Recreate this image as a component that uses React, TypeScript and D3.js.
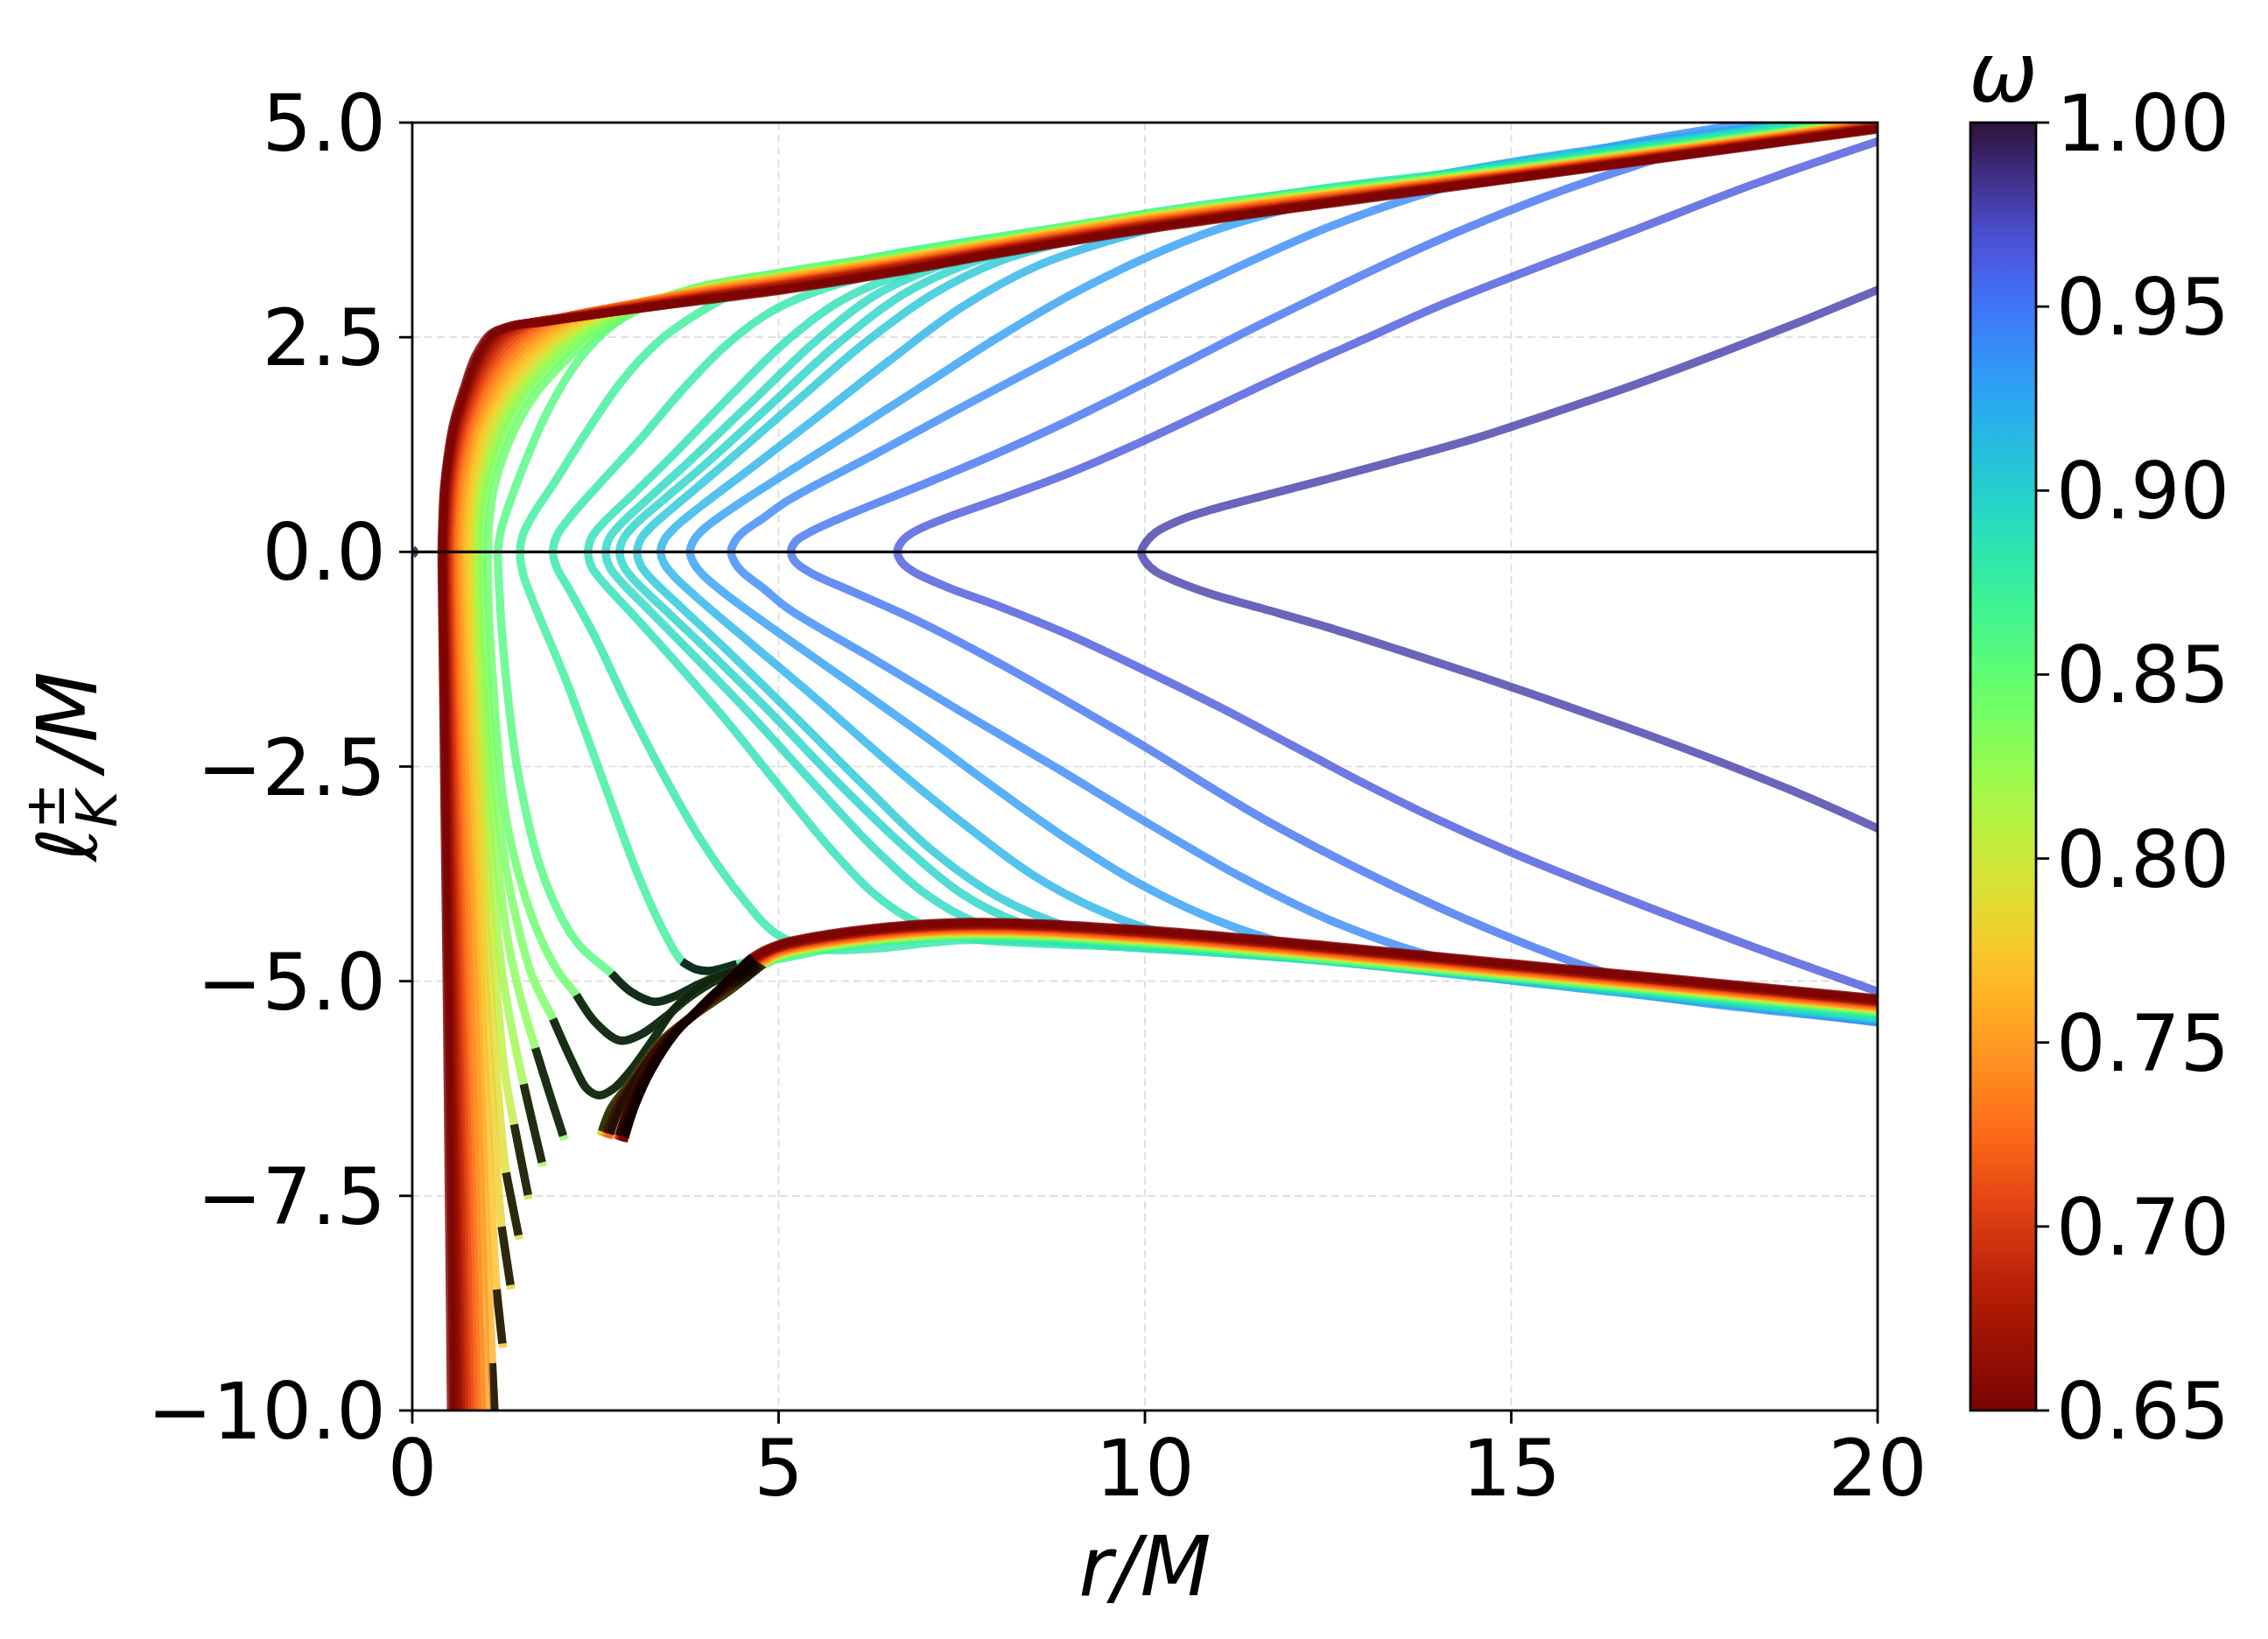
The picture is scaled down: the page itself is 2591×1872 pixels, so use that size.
import React from 'react';
import * as d3 from 'd3';

const WIDTH = 2591;
const HEIGHT = 1872;

const xDomain = [0, 20];
const yDomain = [-10, 5];
const xTicks = [0, 5, 10, 15, 20];
const yTicks = [-10, -7.5, -5, -2.5, 0, 2.5, 5];
const cbarTicks = [0.65, 0.7, 0.75, 0.8, 0.85, 0.9, 0.95, 1.0];
const omegaRange = [0.65, 1.0];

// frequency of each curve (drawn in this order: high omega first, red on top)
const omegas = [0.978, 0.965, 0.952, 0.94, 0.93, 0.918, 0.906, 0.898, 0.893, 0.888, 0.882, 0.873, 0.858, 0.845, 0.838, 0.83, 0.82, 0.805, 0.79, 0.78, 0.77, 0.76, 0.75, 0.74, 0.73, 0.72, 0.71, 0.7, 0.69, 0.68, 0.67, 0.66, 0.655, 0.65];

// l_K^+ : from the turning point (l = 0) outward
const upperBranches: number[][][] = [
  [[9.95,0],[10.02,0.12],[10.15,0.23],[10.45,0.36],[10.9,0.49],[11.6,0.65],[12.5,0.85],[13.5,1.08],[14.5,1.32],[15.5,1.6],[16.6,1.92],[17.8,2.3],[19,2.7],[20,3.05]],
  [[6.62,0],[6.68,0.12],[6.84,0.23],[7.3,0.4],[8.0,0.61],[9.0,0.93],[10,1.3],[11,1.7],[12,2.1],[13,2.48],[14,2.86],[15,3.2],[16.6,3.72],[18.3,4.28],[20,4.78]],
  [[5.17,0],[5.23,0.12],[5.45,0.24],[6.0,0.45],[6.84,0.74],[7.8,1.08],[8.79,1.46],[9.96,1.95],[11.7,2.7],[13.66,3.5],[14.64,3.86],[15.6,4.18],[16.6,4.47],[17.6,4.74],[18.8,4.98],[20,5.18]],
  [[4.35,0],[4.4,0.12],[4.5,0.22],[4.8,0.4],[5.13,0.6],[6.32,1.14],[7.51,1.69],[8.8,2.27],[10,2.8],[11.3,3.33],[12.5,3.78],[13.7,4.14],[15,4.46],[16.5,4.74],[18,4.96],[20,5.16]],
  [[3.79,0],[3.84,0.13],[3.97,0.26],[4.35,0.5],[5.0,0.86],[6,1.4],[7,1.95],[8,2.5],[9,3.0],[10,3.42],[11,3.76],[12.2,4.05],[13.5,4.3],[15,4.54],[17.5,4.85],[20,5.14]],
  [[3.39,0],[3.44,0.14],[3.58,0.28],[3.95,0.54],[4.6,0.96],[5.5,1.55],[6.5,2.22],[7.5,2.85],[8.5,3.32],[9.5,3.62],[10.5,3.85],[12,4.1],[13.5,4.32],[15,4.53],[17.5,4.83],[20,5.12]],
  [[3.07,0],[3.12,0.15],[3.27,0.3],[3.65,0.58],[4.3,1.05],[5.2,1.72],[6.2,2.45],[7.1,3.0],[8,3.38],[9,3.63],[10.3,3.88],[12,4.12],[13.5,4.32],[15,4.52],[17.5,4.82],[20,5.11]],
  [[2.83,0],[2.88,0.15],[3.03,0.31],[3.42,0.6],[4.0,1.02],[4.9,1.72],[5.8,2.42],[6.7,3.0],[7.6,3.36],[8.6,3.6],[10,3.86],[12,4.12],[13.5,4.31],[15,4.51],[17.5,4.81],[20,5.1]],
  [[2.64,0],[2.69,0.16],[2.84,0.32],[3.22,0.62],[3.8,1.07],[4.6,1.72],[5.5,2.45],[6.3,2.98],[7.1,3.3],[8.1,3.55],[9.5,3.8],[11.5,4.07],[13.5,4.3],[15,4.5],[17.5,4.8],[20,5.09]],
  [[2.4,0],[2.45,0.17],[2.61,0.34],[3.0,0.66],[3.55,1.12],[4.3,1.78],[5.1,2.45],[5.8,2.9],[6.5,3.18],[7.5,3.42],[9,3.7],[10.5,3.96],[12.5,4.24],[15,4.49],[17.5,4.79],[20,5.08]],
  [[1.92,0],[1.97,0.18],[2.13,0.38],[2.52,0.76],[3.1,1.3],[3.7,1.9],[4.3,2.42],[4.9,2.8],[5.6,3.06],[6.5,3.27],[8,3.6],[10,3.94],[12.5,4.23],[15,4.48],[17.5,4.78],[20,5.07]],
  [[1.47,0],[1.51,0.2],[1.64,0.42],[1.95,0.82],[2.35,1.36],[2.85,1.98],[3.36,2.45],[3.9,2.78],[4.5,3.05],[5.2,3.22],[6.5,3.46],[8,3.67],[10,3.93],[12.5,4.22],[15,4.47],[17.5,4.76],[20,5.05]],
  [[1.17,0],[1.21,0.25],[1.32,0.55],[1.52,1.0],[1.78,1.52],[2.05,1.95],[2.35,2.32],[2.75,2.65],[3.2,2.88],[3.8,3.06],[5,3.25],[6.5,3.45],[8,3.66],[10,3.93],[12.5,4.21],[15,4.46],[17.5,4.75],[20,5.04]],
  [[1.03,0],[1.05,0.35],[1.11,0.72],[1.24,1.1],[1.44,1.5],[1.72,1.88],[2.06,2.2],[2.44,2.49],[2.86,2.72],[3.3,2.9],[4,3.1],[5,3.24],[6.5,3.44],[8,3.65],[10,3.93],[12.5,4.2],[15,4.46],[17.5,4.75],[20,5.04]],
  [[0.95,0],[0.96,0.35],[1.02,0.72],[1.14,1.1],[1.33,1.5],[1.6,1.87],[1.93,2.19],[2.3,2.47],[2.72,2.7],[3.2,2.88],[4,3.09],[5,3.22],[6.5,3.42],[8,3.63],[10,3.91],[12.5,4.19],[15,4.45],[17.5,4.74],[20,5.03]],
  [[0.9,0],[0.91,0.35],[0.965,0.72],[1.08,1.1],[1.26,1.5],[1.52,1.86],[1.84,2.18],[2.2,2.46],[2.6,2.69],[3.1,2.86],[4,3.08],[5,3.21],[6.5,3.41],[8,3.62],[10,3.9],[12.5,4.18],[15,4.44],[17.5,4.73],[20,5.02]],
  [[0.86,0],[0.87,0.35],[0.92,0.72],[1.03,1.1],[1.2,1.5],[1.45,1.85],[1.76,2.17],[2.11,2.45],[2.5,2.68],[3.0,2.84],[4,3.07],[5,3.2],[6.5,3.4],[8,3.62],[10,3.9],[12.5,4.18],[15,4.44],[17.5,4.73],[20,5.02]],
  [[0.82,0],[0.83,0.35],[0.88,0.72],[0.98,1.1],[1.14,1.5],[1.38,1.85],[1.68,2.17],[2.02,2.45],[2.4,2.67],[2.9,2.83],[4,3.07],[5,3.2],[6.5,3.4],[8,3.61],[10,3.89],[12.5,4.17],[15,4.43],[17.5,4.72],[20,5.01]],
  [[0.78,0],[0.79,0.35],[0.835,0.72],[0.93,1.1],[1.08,1.5],[1.31,1.85],[1.6,2.17],[1.94,2.45],[2.3,2.66],[2.8,2.82],[4,3.06],[5,3.19],[6.5,3.39],[8,3.61],[10,3.89],[12.5,4.17],[15,4.43],[17.5,4.72],[20,5.01]],
  [[0.74,0],[0.75,0.35],[0.79,0.72],[0.88,1.1],[1.02,1.5],[1.24,1.85],[1.52,2.17],[1.86,2.45],[2.22,2.66],[2.7,2.81],[4,3.06],[5,3.19],[6.5,3.39],[8,3.6],[10,3.88],[12.5,4.16],[15,4.43],[17.5,4.72],[20,5.01]],
  [[0.7,0],[0.71,0.35],[0.75,0.72],[0.83,1.1],[0.97,1.5],[1.18,1.85],[1.46,2.18],[1.79,2.45],[2.14,2.66],[2.6,2.8],[4,3.05],[5,3.18],[6.5,3.38],[8,3.6],[10,3.88],[12.5,4.16],[15,4.42],[17.5,4.71],[20,5.0]],
  [[0.66,0],[0.67,0.35],[0.71,0.72],[0.79,1.1],[0.92,1.5],[1.13,1.85],[1.4,2.19],[1.72,2.45],[2.06,2.66],[2.5,2.79],[4,3.05],[5,3.18],[6.5,3.38],[8,3.59],[10,3.87],[12.5,4.15],[15,4.42],[17.5,4.71],[20,5.0]],
  [[0.63,0],[0.64,0.35],[0.675,0.72],[0.75,1.1],[0.88,1.5],[1.08,1.86],[1.34,2.2],[1.65,2.46],[1.98,2.66],[2.4,2.78],[4,3.04],[5,3.16],[6.5,3.36],[8,3.58],[10,3.86],[12.5,4.15],[15,4.41],[17.5,4.7],[20,4.99]],
  [[0.59,0],[0.6,0.35],[0.635,0.72],[0.71,1.1],[0.83,1.5],[1.03,1.87],[1.28,2.21],[1.58,2.47],[1.91,2.67],[2.3,2.77],[4,3.03],[5,3.15],[6.5,3.35],[8,3.57],[10,3.85],[12.5,4.14],[15,4.41],[17.5,4.7],[20,4.99]],
  [[0.56,0],[0.57,0.35],[0.6,0.72],[0.67,1.1],[0.79,1.5],[0.98,1.88],[1.22,2.22],[1.51,2.48],[1.84,2.67],[2.2,2.76],[4,3.02],[5,3.14],[6.5,3.34],[8,3.56],[10,3.84],[12.5,4.13],[15,4.4],[17.5,4.69],[20,4.98]],
  [[0.53,0],[0.54,0.35],[0.57,0.72],[0.64,1.1],[0.755,1.5],[0.94,1.9],[1.17,2.23],[1.45,2.49],[1.77,2.67],[2.15,2.75],[4,3.01],[5,3.13],[6.5,3.33],[8,3.55],[10,3.83],[12.5,4.12],[15,4.39],[17.5,4.68],[20,4.97]],
  [[0.51,0],[0.52,0.35],[0.55,0.72],[0.61,1.1],[0.72,1.5],[0.9,1.9],[1.12,2.24],[1.39,2.5],[1.7,2.67],[2.1,2.74],[4,3.0],[5,3.12],[6.5,3.32],[8,3.54],[10,3.82],[12.5,4.11],[15,4.39],[17.5,4.68],[20,4.97]],
  [[0.49,0],[0.5,0.35],[0.525,0.72],[0.585,1.1],[0.69,1.5],[0.86,1.9],[1.07,2.25],[1.33,2.51],[1.64,2.665],[2.05,2.73],[4,2.99],[5,3.11],[6.5,3.31],[8,3.53],[10,3.81],[12.5,4.1],[15,4.38],[17.5,4.67],[20,4.96]],
  [[0.47,0],[0.48,0.35],[0.505,0.72],[0.56,1.1],[0.66,1.5],[0.82,1.9],[1.03,2.26],[1.28,2.52],[1.58,2.66],[2.0,2.72],[4,2.98],[5,3.1],[6.5,3.3],[8,3.52],[10,3.8],[12.5,4.09],[15,4.37],[17.5,4.66],[20,4.95]],
  [[0.45,0],[0.46,0.35],[0.485,0.72],[0.54,1.1],[0.635,1.5],[0.79,1.9],[0.99,2.27],[1.23,2.53],[1.52,2.655],[1.95,2.71],[4,2.97],[5,3.09],[6.5,3.29],[8,3.51],[10,3.79],[12.5,4.08],[15,4.37],[17.5,4.66],[20,4.95]],
  [[0.435,0],[0.445,0.35],[0.47,0.72],[0.52,1.1],[0.61,1.5],[0.765,1.9],[0.95,2.28],[1.18,2.54],[1.47,2.65],[1.9,2.7],[4,2.96],[5,3.07],[6.5,3.27],[8,3.5],[10,3.78],[12.5,4.08],[15,4.36],[17.5,4.65],[20,4.94]],
  [[0.42,0],[0.43,0.35],[0.45,0.72],[0.5,1.1],[0.59,1.5],[0.74,1.9],[0.92,2.28],[1.14,2.54],[1.42,2.645],[1.85,2.69],[4,2.95],[5,3.06],[6.5,3.26],[8,3.49],[10,3.77],[12.5,4.07],[15,4.35],[17.5,4.64],[20,4.93]],
  [[0.41,0],[0.42,0.35],[0.44,0.72],[0.49,1.1],[0.575,1.5],[0.72,1.9],[0.89,2.28],[1.1,2.54],[1.38,2.64],[1.8,2.68],[4,2.94],[5,3.05],[6.5,3.25],[8,3.48],[10,3.76],[12.5,4.06],[15,4.35],[17.5,4.64],[20,4.93]],
  [[0.4,0],[0.41,0.35],[0.43,0.72],[0.48,1.1],[0.56,1.5],[0.7,1.9],[0.86,2.28],[1.07,2.54],[1.34,2.63],[1.76,2.67],[2.8,2.8],[4,2.93],[5,3.04],[6.5,3.24],[8,3.47],[10,3.75],[12.5,4.05],[15,4.34],[17.5,4.63],[20,4.92]],
];

// l_K^- : from the turning point (l = 0) downward (inner branch)
const lowerBranches: number[][][] = [
  [[9.95,0],[10.01,-0.12],[10.15,-0.23],[10.45,-0.35],[10.9,-0.49],[11.6,-0.66],[12.5,-0.88],[13.5,-1.15],[14.5,-1.43],[15.5,-1.72],[16.6,-2.05],[17.8,-2.43],[19,-2.84],[20,-3.22]],
  [[6.62,0],[6.68,-0.12],[6.84,-0.23],[7.3,-0.41],[8.0,-0.63],[9.0,-0.98],[10,-1.38],[11,-1.8],[12,-2.25],[13,-2.7],[14,-3.12],[15,-3.5],[16.6,-4.05],[18.3,-4.6],[20,-5.12]],
  [[5.17,0],[5.23,-0.12],[5.45,-0.25],[6.0,-0.46],[6.84,-0.78],[7.8,-1.2],[8.79,-1.67],[9.96,-2.25],[11.7,-3.15],[13.66,-4.0],[15,-4.5],[16.1,-4.85],[17,-5.06],[18.5,-5.3],[20,-5.48]],
  [[4.35,0],[4.4,-0.12],[4.5,-0.23],[4.8,-0.43],[5.13,-0.66],[6.32,-1.26],[7.51,-1.87],[8.8,-2.52],[10,-3.14],[11.3,-3.78],[12.5,-4.28],[13.5,-4.6],[14.5,-4.83],[15.5,-4.99],[17.5,-5.24],[20,-5.47]],
  [[3.79,0],[3.84,-0.13],[3.97,-0.27],[4.35,-0.54],[5.0,-0.94],[6,-1.54],[7,-2.15],[8,-2.78],[9,-3.38],[10,-3.9],[11,-4.3],[12,-4.58],[13,-4.76],[15,-4.99],[17.5,-5.23],[20,-5.46]],
  [[3.39,0],[3.44,-0.14],[3.58,-0.29],[3.95,-0.58],[4.6,-1.05],[5.5,-1.7],[6.5,-2.45],[7.5,-3.15],[8.5,-3.78],[9.5,-4.22],[10.5,-4.5],[11.5,-4.65],[13,-4.81],[15,-4.99],[17.5,-5.22],[20,-5.45]],
  [[3.07,0],[3.12,-0.16],[3.27,-0.32],[3.65,-0.63],[4.3,-1.15],[5.2,-1.9],[6.2,-2.75],[7.1,-3.48],[8,-4.02],[9,-4.38],[10,-4.56],[11.5,-4.68],[13,-4.8],[15,-4.98],[17.5,-5.21],[20,-5.44]],
  [[2.83,0],[2.88,-0.16],[3.03,-0.33],[3.42,-0.65],[4.0,-1.12],[4.9,-1.88],[5.8,-2.68],[6.7,-3.42],[7.5,-3.98],[8.3,-4.32],[9.3,-4.52],[10.5,-4.63],[12.5,-4.77],[15,-4.97],[17.5,-5.2],[20,-5.43]],
  [[2.64,0],[2.69,-0.17],[2.84,-0.34],[3.22,-0.67],[3.8,-1.17],[4.6,-1.88],[5.5,-2.72],[6.3,-3.45],[7.0,-3.98],[7.7,-4.32],[8.5,-4.5],[9.5,-4.59],[11,-4.67],[12.5,-4.76],[15,-4.96],[17.5,-5.19],[20,-5.42]],
  [[2.4,0],[2.45,-0.18],[2.61,-0.36],[3.0,-0.72],[3.55,-1.24],[4.3,-1.98],[5.0,-2.72],[5.7,-3.45],[6.3,-3.98],[6.9,-4.32],[7.6,-4.5],[8.5,-4.56],[10,-4.61],[12.5,-4.75],[15,-4.95],[17.5,-5.18],[20,-5.41]],
  [[1.92,0],[1.97,-0.18],[2.13,-0.42],[2.5,-1.0],[2.9,-1.72],[3.4,-2.55],[3.9,-3.3],[4.43,-3.95],[4.97,-4.45],[5.5,-4.62],[6.3,-4.62],[7.6,-4.52],[10,-4.6],[12.5,-4.74],[15,-4.94],[17.5,-5.17],[20,-5.4]],
  [[1.47,0],[1.51,-0.25],[1.66,-0.6],[2.1,-1.5],[2.62,-2.7],[3.1,-3.8],[3.45,-4.45],[3.68,-4.77],[3.87,-4.86],[4.06,-4.88],[4.43,-4.8],[5.0,-4.74],[6.0,-4.58],[7.6,-4.48],[10,-4.57],[15,-4.96],[20,-5.37]],
  [[1.17,0],[1.185,-0.4],[1.26,-1.3],[1.45,-2.6],[1.8,-3.8],[2.25,-4.55],[2.72,-4.91],[2.98,-5.12],[3.31,-5.24],[3.6,-5.17],[3.9,-5.04],[4.3,-4.9],[4.82,-4.8],[5.0,-4.73],[6.0,-4.57],[7.6,-4.47],[10,-4.56],[15,-4.95],[20,-5.36]],
  [[1.03,0],[1.035,-0.5],[1.1,-1.5],[1.26,-3],[1.5,-3.9],[1.75,-4.5],[2.0,-4.9],[2.24,-5.16],[2.5,-5.48],[2.83,-5.69],[3.1,-5.63],[3.45,-5.42],[3.79,-5.18],[4.2,-4.97],[4.81,-4.8],[5.0,-4.72],[6.0,-4.56],[7.6,-4.46],[10,-4.55],[15,-4.94],[20,-5.35]],
  [[0.95,0],[0.955,-0.5],[1.02,-1.5],[1.16,-3],[1.4,-4.2],[1.64,-4.95],[1.92,-5.44],[2.19,-5.95],[2.38,-6.25],[2.55,-6.33],[2.75,-6.25],[3.0,-6.02],[3.3,-5.66],[3.58,-5.32],[4.0,-5.02],[4.4,-4.88],[4.8,-4.8],[5.0,-4.71],[6.0,-4.55],[7.6,-4.45],[10,-4.54],[15,-4.93],[20,-5.34]],
  [[0.9,0],[0.905,-0.5],[0.965,-1.5],[1.09,-3],[1.3,-4.5],[1.48,-5.2],[1.68,-5.78],[1.87,-6.3],[2.06,-6.8]],
  [[0.86,0],[0.865,-0.5],[0.92,-1.5],[1.03,-3],[1.21,-4.8],[1.37,-5.6],[1.52,-6.2],[1.65,-6.68],[1.77,-7.11]],
  [[0.82,0],[0.825,-0.5],[0.875,-1.5],[0.975,-3],[1.13,-4.9],[1.27,-6.1],[1.39,-6.67],[1.58,-7.49]],
  [[0.78,0],[0.785,-0.5],[0.835,-1.5],[0.925,-3],[1.06,-5],[1.19,-6.5],[1.28,-7.23],[1.45,-7.96]],
  [[0.74,0],[0.745,-0.5],[0.79,-1.5],[0.875,-3],[0.995,-5],[1.13,-6.9],[1.22,-7.86],[1.34,-8.54]],
  [[0.7,0],[0.705,-0.5],[0.745,-1.5],[0.825,-3],[0.935,-5],[1.06,-7.2],[1.15,-8.59],[1.23,-9.22]],
  [[0.66,0],[0.665,-0.5],[0.705,-1.5],[0.78,-3],[0.88,-5],[0.99,-7.5],[1.09,-9.45],[1.15,-10.5]],
  [[0.63,0],[0.635,-0.5],[0.67,-1.5],[0.74,-3],[0.84,-5],[0.94,-7.5],[1.03,-10.5]],
  [[0.59,0],[0.595,-0.5],[0.63,-1.5],[0.69,-3],[0.78,-5],[0.87,-7.5],[0.96,-10.5]],
  [[0.56,0],[0.565,-0.5],[0.595,-1.5],[0.655,-3],[0.73,-5],[0.82,-7.5],[0.9,-10.5]],
  [[0.53,0],[0.535,-0.5],[0.565,-1.5],[0.62,-3],[0.69,-5],[0.77,-7.5],[0.85,-10.5]],
  [[0.51,0],[0.515,-0.5],[0.54,-1.5],[0.59,-3],[0.655,-5],[0.73,-7.5],[0.8,-10.5]],
  [[0.49,0],[0.495,-0.5],[0.52,-1.5],[0.56,-3],[0.62,-5],[0.69,-7.5],[0.755,-10.5]],
  [[0.47,0],[0.475,-0.5],[0.495,-1.5],[0.535,-3],[0.59,-5],[0.655,-7.5],[0.715,-10.5]],
  [[0.45,0],[0.455,-0.5],[0.475,-1.5],[0.51,-3],[0.56,-5],[0.62,-7.5],[0.675,-10.5]],
  [[0.435,0],[0.44,-0.5],[0.46,-1.5],[0.49,-3],[0.535,-5],[0.59,-7.5],[0.64,-10.5]],
  [[0.42,0],[0.425,-0.5],[0.445,-1.5],[0.47,-3],[0.51,-5],[0.56,-7.5],[0.605,-10.5]],
  [[0.41,0],[0.415,-0.5],[0.43,-1.5],[0.455,-3],[0.49,-5],[0.53,-7.5],[0.57,-10.5]],
  [[0.4,0],[0.405,-0.5],[0.42,-1.5],[0.44,-3],[0.47,-5],[0.5,-7.5],[0.535,-10.5]],
];

// unstable (dark) stretch of the inner l_K^- branch: [first, last] point index
const lowerDark: (number[] | null)[] = [
  null, null, null, null, null, null, null, null, null, null, null,
  [7, 10], [6, 12], [7, 14], [6, 16],
  [6, 8], [6, 8], [6, 7], [6, 7], [6, 7], [6, 7], [6, 7],
  null, null, null, null, null, null, null, null, null, null, null, null,
];

// outer l_K^- branch of the low-frequency stars (starts dark, then joins the envelope)
const outerBranches: (number[][] | null)[] = [
  null, null, null, null, null, null, null, null, null, null, null, null, null, null, null,
  [[2.59,-6.75],[2.72,-6.47],[3.04,-6.12],[3.36,-5.77],[3.84,-5.4],[4.33,-5.11],[4.79,-4.8],[5.0,-4.7],[6.0,-4.54],[7.6,-4.44],[10,-4.53],[15,-4.92],[20,-5.33]],
  [[2.59,-6.75],[2.73,-6.47],[3.04,-6.12],[3.37,-5.72],[3.84,-5.4],[4.33,-5.11],[4.79,-4.8],[5.0,-4.7],[6.0,-4.54],[7.6,-4.44],[10,-4.53],[15,-4.92],[20,-5.33]],
  [[2.6,-6.75],[2.74,-6.47],[3.04,-6.12],[3.38,-5.72],[3.84,-5.39],[4.32,-5.1],[4.79,-4.8],[5.0,-4.69],[6.0,-4.53],[7.6,-4.43],[10,-4.52],[15,-4.91],[20,-5.32]],
  [[2.61,-6.76],[2.75,-6.47],[3.04,-6.11],[3.39,-5.71],[3.85,-5.39],[4.32,-5.1],[4.78,-4.79],[5.0,-4.69],[6.0,-4.53],[7.6,-4.43],[10,-4.52],[15,-4.91],[20,-5.32]],
  [[2.62,-6.76],[2.76,-6.47],[3.05,-6.11],[3.4,-5.71],[3.85,-5.39],[4.31,-5.1],[4.78,-4.79],[5.0,-4.68],[6.0,-4.52],[7.6,-4.42],[10,-4.51],[15,-4.9],[20,-5.31]],
  [[2.63,-6.76],[2.77,-6.47],[3.05,-6.1],[3.41,-5.7],[3.86,-5.38],[4.31,-5.09],[4.77,-4.79],[5.0,-4.68],[6.0,-4.52],[7.6,-4.42],[10,-4.51],[15,-4.9],[20,-5.31]],
  [[2.64,-6.76],[2.78,-6.47],[3.06,-6.1],[3.42,-5.7],[3.86,-5.38],[4.3,-5.09],[4.76,-4.78],[5.0,-4.67],[6.0,-4.51],[7.6,-4.41],[10,-4.5],[15,-4.89],[20,-5.3]],
  [[2.65,-6.77],[2.79,-6.47],[3.07,-6.09],[3.43,-5.69],[3.87,-5.38],[4.3,-5.09],[4.75,-4.78],[5.0,-4.67],[6.0,-4.51],[7.6,-4.41],[10,-4.5],[15,-4.89],[20,-5.3]],
  [[2.66,-6.77],[2.8,-6.47],[3.08,-6.09],[3.44,-5.69],[3.87,-5.37],[4.29,-5.08],[4.74,-4.77],[5.0,-4.66],[6.0,-4.5],[7.6,-4.4],[10,-4.49],[15,-4.88],[20,-5.29]],
  [[2.68,-6.78],[2.82,-6.46],[3.09,-6.08],[3.45,-5.68],[3.88,-5.37],[4.29,-5.08],[4.73,-4.77],[5.0,-4.65],[6.0,-4.49],[7.6,-4.39],[10,-4.48],[15,-4.87],[20,-5.28]],
  [[2.7,-6.78],[2.84,-6.46],[3.1,-6.08],[3.46,-5.68],[3.88,-5.37],[4.28,-5.08],[4.72,-4.76],[5.0,-4.64],[6.0,-4.48],[7.6,-4.38],[10,-4.47],[15,-4.86],[20,-5.27]],
  [[2.82,-6.8],[2.96,-6.45],[3.18,-6.05],[3.51,-5.65],[3.9,-5.35],[4.28,-5.07],[4.71,-4.76],[5.0,-4.63],[6.0,-4.47],[7.6,-4.37],[10,-4.46],[15,-4.85],[20,-5.26]],
  [[2.83,-6.8],[2.97,-6.45],[3.19,-6.05],[3.52,-5.64],[3.9,-5.35],[4.27,-5.06],[4.7,-4.75],[5.0,-4.62],[6.0,-4.46],[7.6,-4.36],[10,-4.45],[15,-4.84],[20,-5.25]],
  [[2.85,-6.81],[2.99,-6.45],[3.21,-6.05],[3.53,-5.64],[3.9,-5.35],[4.27,-5.06],[4.69,-4.75],[5.0,-4.61],[6.0,-4.45],[7.6,-4.35],[10,-4.44],[15,-4.83],[20,-5.24]],
  [[2.86,-6.81],[3.0,-6.45],[3.22,-6.04],[3.54,-5.63],[3.9,-5.34],[4.26,-5.05],[4.68,-4.74],[5.0,-4.61],[6.0,-4.45],[7.6,-4.35],[10,-4.44],[15,-4.83],[20,-5.24]],
  [[2.87,-6.81],[3.01,-6.45],[3.23,-6.04],[3.55,-5.63],[3.9,-5.34],[4.26,-5.05],[4.67,-4.74],[5.0,-4.6],[6.0,-4.44],[7.6,-4.34],[10,-4.43],[15,-4.82],[20,-5.23]],
  [[2.88,-6.81],[3.02,-6.45],[3.24,-6.04],[3.56,-5.63],[3.9,-5.34],[4.25,-5.05],[4.66,-4.73],[5.0,-4.59],[6.0,-4.43],[7.6,-4.33],[10,-4.42],[15,-4.81],[20,-5.22]],
  [[2.89,-6.82],[3.03,-6.45],[3.25,-6.04],[3.57,-5.62],[3.9,-5.34],[4.25,-5.05],[4.65,-4.73],[5.0,-4.58],[6.0,-4.42],[7.6,-4.32],[10,-4.41],[15,-4.8],[20,-5.21]],
  [[2.9,-6.82],[3.04,-6.45],[3.26,-6.04],[3.58,-5.62],[3.9,-5.33],[4.25,-5.04],[4.64,-4.72],[5.0,-4.57],[6.0,-4.41],[7.6,-4.31],[10,-4.4],[15,-4.79],[20,-5.2]],
];
// last dark point index on every outer branch
const outerDarkEnd = 6;

// tiny mark of the omega -> 1 limit at the origin
const limitMark = [[0, 0.035], [0.03, 0], [0, -0.035]];

const MPL_TURBO_START = '#30123b';
const MPL_TURBO_END = '#7a0403';

function turbo(t: number): string {
  const tt = Math.max(0, Math.min(1, t));
  if (tt < 0.08) return d3.interpolateRgb(MPL_TURBO_START, d3.interpolateTurbo(0.08))(tt / 0.08);
  if (tt > 0.92) return d3.interpolateRgb(d3.interpolateTurbo(0.92), MPL_TURBO_END)((tt - 0.92) / 0.08);
  return d3.interpolateTurbo(tt);
}

export default function App() {
  const left = 471, right = 2145, top = 140, bottom = 1611;
  const x = d3.scaleLinear().domain(xDomain).range([left, right]);
  const y = d3.scaleLinear().domain(yDomain).range([bottom, top]);
  const cb = d3.scaleLinear().domain(omegaRange).range([bottom, top]);
  const tOf = d3.scaleLinear().domain(omegaRange).range([1, 0]);
  const color = (w: number) => turbo(tOf(w));
  const line = d3.line<number[]>().x(d => x(d[0])).y(d => y(d[1])).curve(d3.curveCatmullRom.alpha(0.5));
  const fmtY = d3.format('.1f');
  const fmtC = d3.format('.2f');

  const LW = 9.5;
  const ALPHA = 0.8;
  const FS = 89;
  const LFS = 94;
  const cbX0 = 2251, cbX1 = 2326;

  const stops = d3.range(0, 65).map(i => {
    const o = i / 64;
    return <stop key={i} offset={o} stopColor={turbo(1 - o)} />;
  });

  const curves = omegas.map((w, i) => {
    const col = color(w);
    const up = upperBranches[i];
    const lo = lowerBranches[i];
    const main = [...up.slice().reverse(), ...lo.slice(1)];
    const els: React.ReactNode[] = [];
    els.push(<path key="m" d={line(main) || ''} fill="none" stroke={col} strokeOpacity={ALPHA} strokeWidth={LW} strokeLinecap="square" strokeLinejoin="round" />);
    const ob = outerBranches[i];
    if (ob) {
      els.push(<path key="o" d={line(ob) || ''} fill="none" stroke={col} strokeOpacity={ALPHA} strokeWidth={LW} strokeLinecap="square" strokeLinejoin="round" />);
    }
    const ld = lowerDark[i];
    if (ld) {
      els.push(<path key="ld" d={line(lo.slice(ld[0], ld[1] + 1)) || ''} fill="none" stroke="#000" strokeOpacity={0.82} strokeWidth={LW} strokeLinecap="butt" strokeLinejoin="round" />);
    }
    if (ob) {
      els.push(<path key="od" d={line(ob.slice(0, outerDarkEnd + 1)) || ''} fill="none" stroke="#000" strokeOpacity={0.82} strokeWidth={LW} strokeLinecap="butt" strokeLinejoin="round" />);
    }
    return <g key={i}>{els}</g>;
  });

  return (
    <svg width={WIDTH} height={HEIGHT} style={{ position: 'absolute', left: 0, top: 0, background: '#ffffff' }} fontFamily="DejaVu Sans">
      <defs>
        <clipPath id="plotClip">
          <rect x={left} y={top} width={right - left} height={bottom - top} />
        </clipPath>
        <linearGradient id="cbarGrad" x1="0" y1="1" x2="0" y2="0">
          {stops}
        </linearGradient>
      </defs>
      <rect x={0} y={0} width={WIDTH} height={HEIGHT} fill="#ffffff" />

      <g stroke="#dcdcdc" strokeWidth={1.7} strokeDasharray="9,5">
        {xTicks.map(v => <line key={'gx' + v} x1={x(v)} x2={x(v)} y1={top} y2={bottom} />)}
        {yTicks.map(v => <line key={'gy' + v} x1={left} x2={right} y1={y(v)} y2={y(v)} />)}
      </g>

      <g clipPath="url(#plotClip)">
        {curves}
        <path d={line(limitMark) || ''} fill="none" stroke={turbo(0.005)} strokeWidth={LW} strokeOpacity={ALPHA} />
      </g>

      <line x1={left} x2={right} y1={y(0)} y2={y(0)} stroke="#000" strokeWidth={3.4} />

      <rect x={left} y={top} width={right - left} height={bottom - top} fill="none" stroke="#000" strokeWidth={2.8} />

      <g stroke="#000" strokeWidth={2.8}>
        {xTicks.map(v => <line key={'tx' + v} x1={x(v)} x2={x(v)} y1={bottom} y2={bottom + 15} />)}
        {yTicks.map(v => <line key={'ty' + v} x1={left - 15} x2={left} y1={y(v)} y2={y(v)} />)}
      </g>
      <g fontSize={FS} fill="#000">
        {xTicks.map(v => <text key={'lx' + v} x={x(v)} y={1708} textAnchor="middle">{String(v)}</text>)}
        {yTicks.map(v => <text key={'ly' + v} x={441} y={y(v) + 32} textAnchor="end">{fmtY(v)}</text>)}
      </g>

      <text x={(left + right) / 2} y={1822} fontSize={LFS} textAnchor="middle" fontStyle="italic">r/M</text>
      <text transform={`translate(110,${(top + bottom) / 2}) rotate(-90)`} fontSize={LFS} textAnchor="middle">
        <tspan fontStyle="italic">ℓ</tspan>
        <tspan fontStyle="italic" fontSize={64} dy={23}>K</tspan>
        <tspan fontSize={64} dx={-44} dy={-60}>±</tspan>
        <tspan fontStyle="italic" dy={37} dx={14}>/M</tspan>
      </text>

      <rect x={cbX0} y={top} width={cbX1 - cbX0} height={bottom - top} fill="url(#cbarGrad)" stroke="#000" strokeWidth={2.8} />
      <g stroke="#000" strokeWidth={2.8}>
        {cbarTicks.map(v => <line key={'ct' + v} x1={cbX1} x2={cbX1 + 15} y1={cb(v)} y2={cb(v)} />)}
      </g>
      <g fontSize={FS} fill="#000">
        {cbarTicks.map(v => <text key={'cl' + v} x={2349} y={cb(v) + 32}>{fmtC(v)}</text>)}
      </g>
      <text x={(cbX0 + cbX1) / 2} y={116} fontSize={LFS} textAnchor="middle" fontStyle="italic">ω</text>
    </svg>
  );
}
